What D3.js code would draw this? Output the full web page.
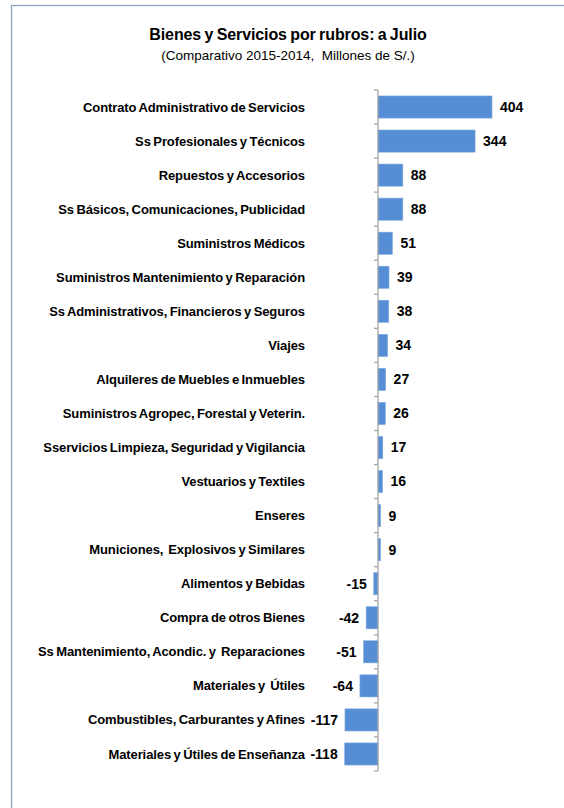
<!DOCTYPE html>
<html lang="es">
    <head>
        <meta charset="utf-8">
        <title>Bienes y Servicios por rubros</title>
        <script src="https://d3js.org/d3.v7.min.js"></script>
        <style type="text/css">
            body { margin: 0; background: #fff; }
            text { font-family: "Liberation Sans", Arial, sans-serif; fill: #000; }
        </style>
    </head>
    <body>
        <script>
            // data
            var categories = [
                "Contrato Administrativo de Servicios",
                "Ss Profesionales y Técnicos",
                "Repuestos y Accesorios",
                "Ss Básicos, Comunicaciones, Publicidad",
                "Suministros Médicos",
                "Suministros Mantenimiento y Reparación",
                "Ss Administrativos, Financieros y Seguros",
                "Viajes",
                "Alquileres de Muebles e Inmuebles",
                "Suministros Agropec, Forestal y Veterin.",
                "Sservicios Limpieza, Seguridad y Vigilancia",
                "Vestuarios y Textiles",
                "Enseres",
                "Municiones,  Explosivos y Similares",
                "Alimentos y Bebidas",
                "Compra de otros Bienes",
                "Ss Mantenimiento, Acondic. y  Reparaciones",
                "Materiales y  Útiles",
                "Combustibles, Carburantes y Afines",
                "Materiales y Útiles de Enseñanza"
            ];
            var values = [404, 344, 88, 88, 51, 39, 38, 34, 27, 26, 17, 16, 9, 9, -15, -42, -51, -64, -117, -118];

            var title = "Bienes y Servicios por rubros: a Julio";
            var subtitle = "(Comparativo 2015-2014,  Millones de S/.)";

            // configuration
            var outerWidth = 564;
            var outerHeight = 808;
            var barColor = "#558ed5";
            var axisColor = "#a6a6a6";

            var data = categories.map(function (c, i) { return { name: c, value: values[i] }; });

            var svg = d3.select("body")
                        .append("svg")
                        .attr("width", outerWidth)
                        .attr("height", outerHeight);

            // frame (runs off the right and bottom of the picture)
            svg.append("rect")
                .attr("x", 11.5)
                .attr("y", 5.5)
                .attr("width", 600)
                .attr("height", 850)
                .attr("fill", "none")
                .attr("stroke", "#8da3c1")
                .attr("stroke-width", 1.3);

            svg.append("text")
                .attr("x", 288)
                .attr("y", 40)
                .attr("text-anchor", "middle")
                .style("font-size", "16px")
                .style("font-weight", "bold")
                .style("letter-spacing", "-0.1px")
                .style("word-spacing", "-1px")
                .text(title);

            svg.append("text")
                .attr("x", 288)
                .attr("y", 60)
                .attr("text-anchor", "middle")
                .style("font-size", "13.5px")
                .style("white-space", "pre")
                .text(subtitle);

            var xScale = d3.scaleLinear()
                .domain(d3.extent(values))
                .range([344.7, 492]);

            var yScale = d3.scaleBand()
                .domain(categories)
                .range([90, 771])
                .paddingInner(0.35)
                .paddingOuter(0.175);

            var x0 = xScale(0);

            // bars
            svg.selectAll("rect.bar")
                .data(data)
                .enter().append("rect")
                .attr("class", "bar")
                .attr("x", function (d) { return Math.min(xScale(d.value), x0); })
                .attr("y", function (d) { return yScale(d.name); })
                .attr("width", function (d) { return Math.abs(xScale(d.value) - x0); })
                .attr("height", yScale.bandwidth())
                .attr("fill", barColor)
                .attr("stroke", "#7fa9e0")
                .attr("stroke-width", 0.6);

            // vertical axis at zero with ticks between categories
            var step = yScale.step();
            var r = yScale.range();
            var tickYs = d3.range(categories.length + 1).map(function (i) { return r[0] + i * step; });

            svg.append("line")
                .attr("x1", x0).attr("x2", x0)
                .attr("y1", r[0]).attr("y2", r[1])
                .attr("stroke", axisColor)
                .attr("stroke-width", 1.3);

            svg.selectAll("line.tick")
                .data(tickYs)
                .enter().append("line")
                .attr("class", "tick")
                .attr("x1", x0 - 4).attr("x2", x0)
                .attr("y1", function (d) { return d; })
                .attr("y2", function (d) { return d; })
                .attr("stroke", axisColor)
                .attr("stroke-width", 1.3);

            // category labels
            svg.selectAll("text.cat")
                .data(data)
                .enter().append("text")
                .attr("class", "cat")
                .attr("x", 305)
                .attr("y", function (d) { return yScale(d.name) + yScale.bandwidth() / 2; })
                .attr("dy", "0.35em")
                .attr("text-anchor", "end")
                .style("font-size", "13px")
                .style("font-weight", "bold")
                .style("letter-spacing", "-0.1px")
                .style("word-spacing", "-1px")
                .style("white-space", "pre")
                .text(function (d) { return d.name; });

            // value labels
            svg.selectAll("text.val")
                .data(data)
                .enter().append("text")
                .attr("class", "val")
                .attr("x", function (d) { return d.value >= 0 ? xScale(d.value) + 8 : xScale(d.value) - 7; })
                .attr("y", function (d) { return yScale(d.name) + yScale.bandwidth() / 2; })
                .attr("dy", "0.35em")
                .attr("text-anchor", function (d) { return d.value >= 0 ? "start" : "end"; })
                .style("font-size", "14px")
                .style("font-weight", "bold")
                .text(function (d) { return d.value; });
        </script>
    </body>
</html>
